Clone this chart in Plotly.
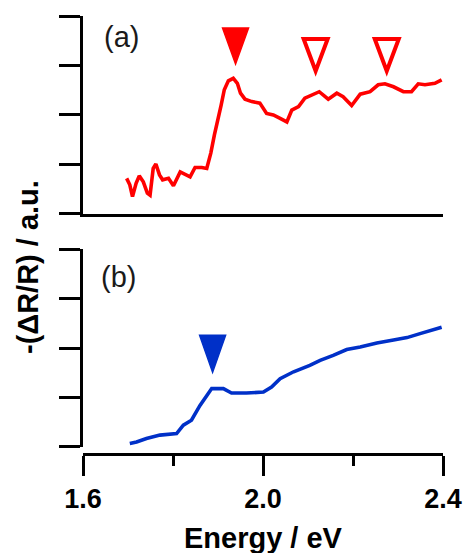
import plotly.graph_objects as go

# ---- data ----
energy_a = [1.697, 1.704, 1.710, 1.718, 1.725, 1.734, 1.743, 1.749, 1.756, 1.762,
            1.770, 1.777, 1.790, 1.801, 1.816, 1.827, 1.838, 1.849, 1.864, 1.875,
            1.884, 1.892, 1.899, 1.907, 1.914, 1.923, 1.934, 1.943, 1.950, 1.960,
            1.975, 1.993, 2.008, 2.023, 2.038, 2.053, 2.064, 2.079, 2.093, 2.108,
            2.125, 2.145, 2.164, 2.178, 2.197, 2.216, 2.238, 2.256, 2.271, 2.290,
            2.312, 2.330, 2.345, 2.360, 2.382, 2.397]
signal_a = [0.72, 0.59, 0.35, 0.62, 0.77, 0.65, 0.42, 0.38, 0.92, 1.01,
            0.79, 0.69, 0.72, 0.57, 0.85, 0.79, 0.75, 0.94, 0.94, 0.92,
            1.23, 1.60, 1.86, 2.20, 2.51, 2.69, 2.74, 2.64, 2.44, 2.32,
            2.27, 2.24, 2.03, 2.00, 1.93, 1.86, 2.10, 2.17, 2.34, 2.40,
            2.47, 2.32, 2.44, 2.37, 2.19, 2.42, 2.47, 2.61, 2.63, 2.57,
            2.47, 2.47, 2.63, 2.61, 2.64, 2.71]

energy_b = [1.704, 1.719, 1.741, 1.771, 1.808, 1.823, 1.841, 1.860, 1.886, 1.912,
            1.930, 1.963, 2.001, 2.019, 2.038, 2.068, 2.104, 2.127, 2.156, 2.186,
            2.216, 2.253, 2.290, 2.320, 2.349, 2.379, 2.397]
signal_b = [0.07, 0.10, 0.17, 0.24, 0.27, 0.44, 0.54, 0.84, 1.18, 1.18,
            1.09, 1.09, 1.11, 1.21, 1.38, 1.52, 1.65, 1.75, 1.85, 1.97,
            2.02, 2.10, 2.16, 2.21, 2.29, 2.36, 2.42]

# peak indicators (x = energy, y = tip of the triangle)
marker_a_filled_x = [1.939]
marker_a_filled_y = [3.03]
marker_a_open_x = [2.117, 2.275]
marker_a_open_y = [2.89, 2.89]
marker_b_x = [1.888]
marker_b_y = [1.51]

x_tickvals = [1.6, 2.0, 2.4]
x_ticktext = ["1.6", "2.0", "2.4"]
x_minor = [1.8, 2.2]
y_tickvals = [0, 1, 2, 3, 4]

RED = "#FF0000"
BLUE = "#0030C8"
FONT = "Liberation Sans, Arial, sans-serif"
LW = 2.6

# triangle glyphs (pixel offsets from the tip)
TRI_FILLED = "M0,0 L-13,36 L13,36 Z"
TRI_OPEN = "M0,0 L-12,32 L12,32 Z"
TRI_BLUE = "M0,0 L-13,37 L13,37 Z"

fig = go.Figure()
fig.add_trace(go.Scatter(x=energy_a, y=signal_a, mode="lines",
                         line=dict(color=RED, width=3.6), xaxis="x2", yaxis="y",
                         showlegend=False, hoverinfo="skip"))
fig.add_trace(go.Scatter(x=energy_b, y=signal_b, mode="lines",
                         line=dict(color=BLUE, width=3.6), xaxis="x", yaxis="y2",
                         showlegend=False, hoverinfo="skip"))

shapes = []
for xv, yv in zip(marker_a_filled_x, marker_a_filled_y):
    shapes.append(dict(type="path", xref="x2", yref="y", xsizemode="pixel",
                       ysizemode="pixel", xanchor=xv, yanchor=yv, path=TRI_FILLED,
                       fillcolor=RED, line=dict(color=RED, width=1.5)))
for xv, yv in zip(marker_a_open_x, marker_a_open_y):
    shapes.append(dict(type="path", xref="x2", yref="y", xsizemode="pixel",
                       ysizemode="pixel", xanchor=xv, yanchor=yv, path=TRI_OPEN,
                       fillcolor="rgba(255,255,255,0)", line=dict(color=RED, width=4)))
for xv, yv in zip(marker_b_x, marker_b_y):
    shapes.append(dict(type="path", xref="x", yref="y2", xsizemode="pixel",
                       ysizemode="pixel", xanchor=xv, yanchor=yv, path=TRI_BLUE,
                       fillcolor=BLUE, line=dict(color=BLUE, width=1.5)))

yax = dict(range=[0, 4], showline=True, linecolor="black", linewidth=LW,
           ticks="outside", ticklen=21, tickwidth=LW, tickcolor="black",
           tickvals=y_tickvals, showticklabels=False, showgrid=False,
           zeroline=False, fixedrange=True, automargin=False)
xline = dict(range=[1.6, 2.4], showline=True, linecolor="black", linewidth=LW,
             ticks="", showticklabels=False, showgrid=False, zeroline=False,
             domain=[0, 1], automargin=False)

fig.update_layout(
    width=463, height=553,
    margin=dict(l=83, r=20, t=16, b=99, autoexpand=False),
    paper_bgcolor="white", plot_bgcolor="white",
    font=dict(family=FONT, color="black"),
    xaxis=dict(range=[1.6, 2.4], domain=[0, 1], anchor="free", position=0,
               showline=True, linecolor="black", linewidth=LW,
               ticks="outside", ticklen=20, tickwidth=LW, tickcolor="black",
               tickvals=x_tickvals, ticktext=x_ticktext,
               minor=dict(tickvals=x_minor, ticks="outside", ticklen=10,
                          tickwidth=LW, tickcolor="black"),
               tickfont=dict(size=27, family=FONT, weight="bold"),
               showgrid=False, zeroline=False, automargin=False),
    xaxis2=dict(xline, anchor="y", matches="x"),
    xaxis3=dict(xline, anchor="y2", matches="x"),
    yaxis=dict(yax, domain=[0.548, 1.0], anchor="x2"),
    yaxis2=dict(yax, domain=[0.016, 0.468], anchor="x3"),
    shapes=shapes,
    annotations=[
        dict(text="(a)", xref="paper", yref="paper", x=(121 - 83) / 360,
             y=(454 - 37) / 438, showarrow=False, xanchor="center", yanchor="middle",
             font=dict(size=29, family=FONT, color="#1a1a1a")),
        dict(text="(b)", xref="paper", yref="paper", x=(118 - 83) / 360,
             y=(454 - 277) / 438, showarrow=False, xanchor="center", yanchor="middle",
             font=dict(size=29, family=FONT, color="#1a1a1a")),
        dict(text="-(ΔR/R) / a.u.", xref="paper", yref="paper", x=(28 - 83) / 360,
             y=(454 - 267) / 438, showarrow=False, textangle=-90,
             xanchor="center", yanchor="middle",
             font=dict(size=29, family=FONT, weight="bold")),
        dict(text="Energy / eV", xref="paper", yref="paper", x=(263 - 83) / 360,
             y=(454 - 538) / 438, showarrow=False, xanchor="center", yanchor="middle",
             font=dict(size=29, family=FONT, weight="bold")),
    ],
)

fig.write_html("out.html", config={"displayModeBar": False},
               post_script="document.body.style.margin='0';")
